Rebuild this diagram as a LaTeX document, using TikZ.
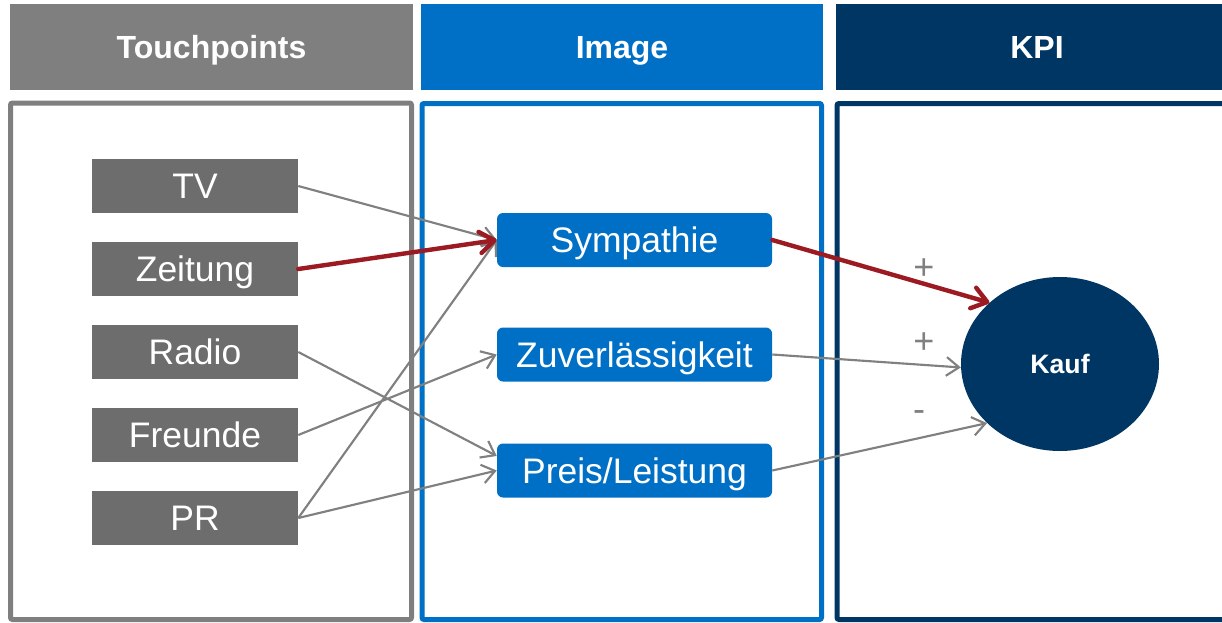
\documentclass[tikz,border=0pt]{standalone}
\usepackage{fontspec}
\setmainfont{Liberation Sans}
\usetikzlibrary{arrows.meta,shapes.geometric,calc}

\definecolor{tpgray}{HTML}{7F7F7F}
\definecolor{boxgray}{HTML}{6D6D6D}
\definecolor{imgblue}{HTML}{0070C6}
\definecolor{kpinavy}{HTML}{003663}
\definecolor{linkred}{HTML}{9C1A22}
\definecolor{linkgray}{HTML}{808080}

\tikzset{
  header/.style={font=\bfseries\fontsize{24}{28}\selectfont, text=white,
    text height=17.2pt, text depth=0pt},
  panel/.style={line width=3.75pt, rounded corners=1.5pt, fill=white},
  touchbox/.style={rectangle, fill=boxgray, text=white, minimum width=154.5pt,
    minimum height=40.5pt, inner sep=0pt, font=\fontsize{26.6}{30}\selectfont,
    text height=19pt, text depth=0pt},
  imagebox/.style={rectangle, rounded corners=4.5pt, fill=imgblue, text=white,
    minimum width=206.25pt, minimum height=40.5pt, inner sep=0pt,
    font=\fontsize{26.6}{30}\selectfont, text height=19pt, text depth=0pt},
  kpinode/.style={ellipse, fill=kpinavy, text=white, minimum width=148.5pt,
    minimum height=130.5pt, inner sep=0pt, font=\bfseries\fontsize{20}{24}\selectfont,
    text height=14.3pt, text depth=0pt},
  weaklink/.style={draw=linkgray, line width=1.6pt,
    -{Straight Barb[length=9.5pt,width=14pt,line width=1.6pt]}},
  stronglink/.style={draw=linkred, line width=3.3pt, line cap=round,
    -{Straight Barb[length=11pt,width=16pt,line width=3.3pt,round]}},
  signlabel/.style={text=linkgray, font=\fontsize{27}{30}\selectfont, inner sep=0pt}
}

\begin{document}
\begin{tikzpicture}[x=0.75pt, y=-0.75pt]
  \useasboundingbox (0,0) rectangle (1222,622);

  % column headers
  \fill[tpgray]  (10,4) rectangle (413,90);
  \fill[imgblue] (421,4) rectangle (823,90);
  \fill[kpinavy] (836,4) rectangle (1230,90);
  \node[header] (hTouch) at (211.5,47.5) {Touchpoints};
  \node[header] (hImage) at (622,47.5) {Image};
  \node[header] (hKPI)   at (1037,47.5) {KPI};

  % column frames
  \draw[panel, draw=tpgray]  (10.5,103) rectangle (411.5,619.5);
  \draw[panel, draw=imgblue] (422,103.5) rectangle (821.5,619.5);
  \draw[panel, draw=kpinavy] (837,103.5) rectangle (1234,619.5);

  % touchpoints
  \node[touchbox] (tv)      at (195,186) {TV};
  \node[touchbox] (zeitung) at (195,269) {Zeitung};
  \node[touchbox] (radio)   at (195,352) {Radio};
  \node[touchbox] (freunde) at (195,435) {Freunde};
  \node[touchbox] (pr)      at (195,518) {PR};

  % image dimensions
  \node[imagebox] (sym) at (634.5,240)   {Sympathie};
  \node[imagebox] (zuv) at (634.5,354.5) {Zuverlässigkeit};
  \node[imagebox] (pl)  at (634.5,470.5) {Preis/Leistung};

  % KPI
  \node[kpinode] (kauf) at (1060,364) {Kauf};

  % touchpoints -> image
  \draw[weaklink] (tv.east) -- (sym.west);
  \draw[weaklink] (radio.east) -- ([yshift=10.9pt]pl.west);
  \draw[weaklink] (freunde.east) -- (zuv.west);
  \draw[weaklink] (pr.east) -- (sym.west);
  \draw[weaklink] (pr.east) -- (pl.west);
  \draw[stronglink] (zeitung.east) -- (sym.west);

  % image -> KPI
  \draw[weaklink] (zuv.east) -- (kauf.182);
  \draw[weaklink] (pl.east) -- (kauf.219);
  \draw[stronglink] (sym.east) -- (kauf.139);

  % effect signs
  \node[signlabel] (s1) at (924,269) {+};
  \node[signlabel] (s2) at (924,343) {+};
  \node[signlabel] (s3) at (919,416) {-};
\end{tikzpicture}
\end{document}
